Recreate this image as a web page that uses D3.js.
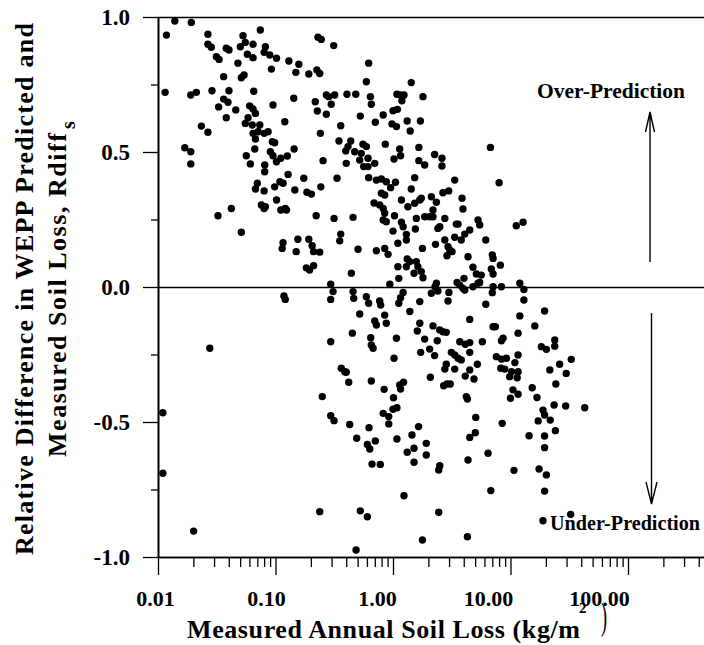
<!DOCTYPE html>
<meta charset="utf-8">

<!-- Load d3.js -->
<script src="https://d3js.org/d3.v7.min.js"></script>

<style>
  body { margin: 0; background: #fff; }
  svg text { font-family: "Liberation Serif", "Times New Roman", serif; font-weight: bold; fill: #000; }
</style>

<!-- Create a div where the graph will take place -->
<div id="my_dataviz"></div>

<script>

    // measured annual soil loss (kg/m2)
    var soilLoss = [
      0.0118,0.0139,0.0192,0.0266,0.0266,0.0284,0.0381,0.0402,0.0314,0.0331,
      0.0529,0.0743,0.0553,0.0502,0.0644,0.0820,0.0576,0.0644,0.0800,0.0893,
      0.102,0.0479,0.0362,0.0512,0.0540,0.0923,0.130,0.158,0.149,0.192,
      0.225,0.238,0.230,0.245,0.313,0.621,0.593,0.0115,0.0190,0.0212,
      0.0288,0.0402,0.0653,0.0362,0.0394,0.0328,0.0459,0.0381,0.0603,0.0644,
      0.0675,0.0952,0.143,0.0584,0.0553,0.0635,0.0735,0.0234,0.0266,0.0644,
      0.0675,0.0711,0.0800,0.0865,0.0941,0.0984,0.120,0.0666,0.0904,0.0952,
      0.144,0.0169,0.0190,0.0190,0.0564,0.0611,0.0810,0.0810,0.102,0.111,
      0.126,0.128,0.174,0.0700,0.0675,0.0800,0.0984,0.109,0.116,0.146,
      0.185,0.202,0.243,0.334,0.218,0.227,0.271,0.284,0.319,0.298,
      0.271,0.406,0.482,0.642,0.654,0.527,0.707,0.359,0.241,0.347,
      0.437,0.414,0.396,0.555,0.593,0.472,0.537,0.521,0.613,0.699,
      0.563,0.613,0.400,0.254,0.621,0.722,
      1.43,1.08,1.16,1.24,1.19,1.80,1.00,1.09,0.825,0.980,
      1.07,1.32,1.71,1.40,0.860,1.14,1.16,1.02,1.66,2.26,
      2.61,1.66,1.86,2.61,6.75,0.796,0.877,0.955,1.05,1.53,
      3.35,8.00,1.43,2.66,2.98,0.796,0.850,
      0.0324,0.0421,0.0758,0.0800,0.0820,0.102,0.111,0.121,0.124,0.222,
      0.315,0.457,0.0512,0.116,0.114,0.155,0.192,0.205,0.211,0.238,
      0.150,0.359,0.352,0.504,0.722,0.183,0.195,0.211,0.442,0.295,
      0.309,0.295,0.457,0.463,0.593,0.621,0.690,0.118,0.121,0.521,
      0.699,0.722,0.451,0.295,0.646,0.654,0.677,0.0276,0.363,0.389,
      0.400,
      1.18,1.53,1.69,1.74,2.12,2.34,3.87,0.770,0.825,0.850,
      0.825,0.877,1.34,1.03,1.58,1.86,2.05,2.19,2.19,2.76,
      3.94,1.18,1.22,1.00,1.55,2.41,2.50,3.46,3.58,5.29,
      5.47,11.2,12.8,1.30,1.30,1.10,4.08,4.50,3.35,3.81,
      2.76,2.30,6.16,0.850,0.908,1.78,2.94,3.04,3.18,2.88,
      4.35,7.00,7.11,1.32,1.39,1.30,1.10,1.58,1.63,1.51,
      1.74,1.80,1.12,4.79,5.12,5.64,6.87,7.11,8.20,4.02,
      0.940,2.34,2.28,3.51,3.70,3.94,4.08,4.79,5.29,5.47,
      7.11,7.00,8.37,12.0,13.0,2.12,2.41,2.99,1.22,1.16,
      1.12,0.770,0.786,1.69,2.94,6.16,13.0,1.39,0.850,0.877,
      4.50,12.0,19.5,16.1,7.11,7.43,1.69,1.61,2.19,2.50,
      2.66,2.84,11.6,1.07,1.86,2.38,3.70,4.12,4.50,5.76,
      8.65,8.37,18.3,20.2,23.8,23.8,1.72,2.05,3.14,3.35,
      3.58,3.81,4.50,2.26,1.02,7.58,8.37,9.23,11.6,10.9,
      32.9,26.2,21.6,29.8,2.84,2.76,3.35,4.50,5.22,8.27,
      8.93,11.6,10.2,
      0.420,0.654,0.250,0.0110,0.295,0.315,0.428,0.625,0.491,0.605,
      0.634,0.707,0.663,0.0110,0.238,0.527,0.605,0.0201,0.485,
      0.840,1.14,1.16,1.23,1.01,0.825,0.920,0.920,1.00,1.08,
      2.08,2.70,2.88,3.07,4.12,4.89,4.21,4.30,9.84,11.4,
      10.5,11.6,10.0,15.3,16.8,24.3,23.5,29.5,42.8,18.9,
      19.5,21.8,17.2,24.1,5.06,8.50,1.65,1.45,1.08,4.50,
      5.02,14.4,19.5,1.51,1.32,1.92,1.92,1.51,0.780,6.44,
      19.5,4.35,2.50,2.45,10.7,17.5,20.2,19.5,6.80,1.24,
      2.45,18.9,32.5,1.78,4.30
    ];

    // relative difference Rdiff_s, same order as soilLoss
    var rdiff = [
      0.933,0.985,0.980,0.936,0.899,0.888,0.884,0.878,0.853,0.843,
      0.931,0.952,0.906,0.890,0.899,0.890,0.862,0.849,0.869,0.859,
      0.847,0.829,0.779,0.775,0.785,0.807,0.837,0.825,0.795,0.789,
      0.804,0.791,0.925,0.917,0.894,0.829,0.760,0.721,0.711,0.721,
      0.727,0.727,0.725,0.696,0.684,0.667,0.656,0.627,0.671,0.659,
      0.643,0.674,0.699,0.627,0.606,0.600,0.600,0.596,0.573,0.569,
      0.548,0.575,0.569,0.575,0.538,0.534,0.612,0.511,0.501,0.486,
      0.511,0.516,0.501,0.456,0.486,0.456,0.452,0.427,0.464,0.477,
      0.485,0.417,0.403,0.384,0.363,0.356,0.371,0.390,0.384,0.359,
      0.351,0.344,0.371,0.403,0.686,0.652,0.711,0.705,0.711,0.677,
      0.640,0.714,0.714,0.705,0.677,0.633,0.610,0.597,0.569,0.541,
      0.541,0.520,0.504,0.529,0.520,0.501,0.495,0.470,0.477,0.458,
      0.446,0.446,0.458,0.468,0.405,0.396,
      0.757,0.714,0.711,0.711,0.690,0.705,0.653,0.658,0.637,0.604,
      0.594,0.615,0.615,0.578,0.529,0.511,0.486,0.474,0.517,0.491,
      0.477,0.468,0.452,0.448,0.517,0.400,0.390,0.368,0.388,0.405,
      0.396,0.386,0.363,0.349,0.356,0.347,0.341,
      0.264,0.291,0.304,0.291,0.297,0.322,0.285,0.291,0.285,0.264,
      0.254,0.258,0.203,0.164,0.143,0.177,0.177,0.153,0.131,0.129,
      0.131,0.196,0.171,0.140,0.134,0.071,0.063,0.079,0.051,0.010,
      -0.017,-0.046,-0.017,-0.042,-0.036,-0.060,0.311,-0.033,-0.046,-0.100,
      -0.126,-0.141,-0.171,-0.203,-0.188,-0.215,-0.227,-0.227,-0.301,-0.314,
      -0.316,
      0.322,0.310,0.322,0.329,0.334,0.314,0.329,0.304,0.291,0.273,
      0.248,0.242,0.297,0.264,0.254,0.260,0.260,0.285,0.260,0.254,
      0.289,0.240,0.223,0.207,0.215,0.217,0.223,0.233,0.233,0.248,
      0.230,0.227,0.240,0.195,0.174,0.162,0.196,0.211,0.184,0.174,
      0.174,0.158,0.174,0.143,0.121,0.143,0.149,0.137,0.131,0.116,
      0.112,0.119,0.106,0.104,0.094,0.075,0.075,0.094,0.075,0.051,
      0.057,0.034,0.032,0.073,0.048,0.044,0.067,0.048,0.081,0.032,
      0.010,0.014,0.001,0.017,0.007,-0.005,-0.011,0.001,0.014,0.017,
      0.001,-0.021,0.001,0.014,-0.009,-0.023,-0.015,-0.020,-0.020,-0.040,
      -0.060,-0.052,-0.067,-0.054,-0.052,-0.064,-0.048,-0.091,-0.104,-0.134,
      -0.120,-0.107,-0.089,-0.144,-0.147,-0.147,-0.134,-0.163,-0.144,-0.159,
      -0.166,-0.168,-0.171,-0.190,-0.193,-0.199,-0.203,-0.212,-0.206,-0.203,
      -0.190,-0.199,-0.221,-0.231,-0.196,-0.219,-0.242,-0.230,-0.242,-0.252,
      -0.264,-0.270,-0.242,-0.254,-0.264,-0.258,-0.267,-0.264,-0.252,-0.280,
      -0.268,-0.286,-0.307,-0.320,-0.286,-0.304,-0.304,-0.307,-0.286,-0.301,
      -0.304,-0.314,-0.314,
      -0.353,-0.348,-0.406,-0.466,-0.477,-0.495,-0.509,-0.521,-0.560,-0.583,
      -0.600,-0.570,-0.656,-0.690,-0.832,-0.829,-0.851,-0.904,-0.974,
      -0.379,-0.363,-0.378,-0.353,-0.410,-0.468,-0.480,-0.507,-0.453,-0.447,
      -0.334,-0.366,-0.359,-0.359,-0.330,-0.341,-0.406,-0.415,-0.332,-0.336,
      -0.381,-0.397,-0.412,-0.373,-0.409,-0.359,-0.437,-0.441,-0.447,-0.456,
      -0.474,-0.493,-0.496,-0.532,-0.483,-0.505,-0.517,-0.548,-0.563,-0.557,
      -0.540,-0.551,-0.552,-0.597,-0.612,-0.579,-0.622,-0.649,-0.657,-0.616,
      -0.595,-0.641,-0.662,-0.678,-0.679,-0.674,-0.696,-0.756,-0.754,-0.773,
      -0.834,-0.866,-0.842,-0.937,-0.925
    ];

    var xTicks = [0.01, 0.1, 1, 10, 100];
    var xTickLabels = ["0.01", "0.10", "1.00", "10.00", "100.00"];
    var yTicks = [1, 0.5, 0, -0.5, -1];
    var yTickLabels = ["1.0", "0.5", "0.0", "-0.5", "-1.0"];
    var yMinorTicks = [0.75, 0.25, -0.25, -0.75];

    // size of the page and of the plot frame
    var width = 704, height = 645;
    var plotLeft = 158, plotTop = 17, plotBottom = 557, decade = 117.5;

    var svg = d3.select("#my_dataviz")
      .append("svg")
        .attr("width", width)
        .attr("height", height);

    // X scale: log, the frame runs on past 100 up to the page edge
    var x = d3.scaleLog()
      .domain([0.01, 100])
      .range([plotLeft, plotLeft + 4 * decade]);
    var xEnd = x.invert(width);
    x.domain([0.01, xEnd]).range([plotLeft, width]);

    var y = d3.scaleLinear()
      .domain([-1, 1])
      .range([plotBottom, plotTop]);

    // minor log ticks 2..9 in each decade
    var xMinor = [];
    xTicks.forEach(function(p) {
      d3.range(2, 10).forEach(function(k) {
        if (p * k <= xEnd) xMinor.push(p * k);
      });
    });

    function styleAxis(g) {
      g.select(".domain").attr("stroke", "#000").attr("stroke-width", 1.6);
      g.selectAll(".tick line").attr("stroke", "#000").attr("stroke-width", 1.3);
    }

    // bottom axis
    svg.append("g")
      .attr("transform", "translate(0," + plotBottom + ")")
      .call(d3.axisBottom(x).tickValues(xMinor).tickSize(10).tickSizeOuter(0).tickFormat(function() { return ""; }))
      .call(styleAxis);

    var xAxis = svg.append("g")
      .attr("transform", "translate(0," + plotBottom + ")")
      .call(d3.axisBottom(x).tickValues(xTicks).tickSize(18).tickSizeOuter(0)
        .tickFormat(function(d, i) { return xTickLabels[i]; }))
      .call(styleAxis);
    xAxis.selectAll("text")
      .attr("y", 49)
      .attr("dy", null)
      .attr("dx", function(d, i) { return -3 - 6.5 * i; })
      .style("font-size", "22px");

    // left axis
    svg.append("g")
      .attr("transform", "translate(" + plotLeft + ",0)")
      .call(d3.axisLeft(y).tickValues(yMinorTicks).tickSize(7).tickSizeOuter(0).tickFormat(function() { return ""; }))
      .call(styleAxis);

    var yAxis = svg.append("g")
      .attr("transform", "translate(" + plotLeft + ",0)")
      .call(d3.axisLeft(y).tickValues(yTicks).tickSize(15).tickSizeOuter(0)
        .tickFormat(function(d, i) { return yTickLabels[i]; }))
      .call(styleAxis);
    yAxis.selectAll("text")
      .attr("x", -28)
      .style("font-size", "23px");

    // top frame line and zero line
    [1, 0].forEach(function(v) {
      svg.append("line")
        .attr("x1", plotLeft).attr("x2", width)
        .attr("y1", y(v) + 0.5).attr("y2", y(v) + 0.5)
        .attr("stroke", "#000")
        .attr("stroke-width", 1.6);
    });

    // Add dots
    svg.append("g")
      .selectAll("circle")
      .data(d3.zip(soilLoss, rdiff))
      .enter()
      .append("circle")
        .attr("cx", function(d) { return x(d[0]); })
        .attr("cy", function(d) { return y(d[1]); })
        .attr("r", 3.7)
        .style("fill", "#000");

    // over / under prediction notes with arrows
    svg.append("text")
      .attr("x", 537).attr("y", 98)
      .attr("textLength", 148).attr("lengthAdjust", "spacingAndGlyphs")
      .style("font-size", "21px")
      .text("Over-Prediction");

    svg.append("text")
      .attr("x", 550).attr("y", 530)
      .attr("textLength", 150).attr("lengthAdjust", "spacingAndGlyphs")
      .style("font-size", "20px")
      .text("Under-Prediction");

    var arrow = svg.append("g")
      .attr("fill", "none")
      .attr("stroke", "#000")
      .attr("stroke-width", 1.4);
    arrow.append("path").attr("d", "M650,262V112M645.5,132L650,112L654.5,132");
    arrow.append("path").attr("d", "M651.5,313V504M646,482L651.5,504L657,482");

    // X axis title
    svg.append("text")
      .attr("x", 187).attr("y", 638)
      .attr("textLength", 393).attr("lengthAdjust", "spacing")
      .style("font-size", "26px")
      .text("Measured Annual Soil Loss (kg/m");
    svg.append("text")
      .attr("x", 579).attr("y", 613)
      .style("font-size", "15px")
      .text("2");
    svg.append("text")
      .attr("transform", "translate(601,629) scale(0.7,1.45)")
      .style("font-size", "26px")
      .style("font-weight", "normal")
      .text(")");

    // Y axis title, two lines
    svg.append("text")
      .attr("transform", "translate(33,289) rotate(-90)")
      .attr("text-anchor", "middle")
      .attr("textLength", 532).attr("lengthAdjust", "spacing")
      .style("font-size", "26px")
      .text("Relative Difference in WEPP Predicted and");

    svg.append("text")
      .attr("transform", "translate(66,457) rotate(-90)")
      .attr("textLength", 324).attr("lengthAdjust", "spacing")
      .style("font-size", "26px")
      .text("Measured Soil Loss, Rdiff");
    svg.append("text")
      .attr("transform", "translate(75,129) rotate(-90)")
      .style("font-size", "20px")
      .text("s");

</script>
